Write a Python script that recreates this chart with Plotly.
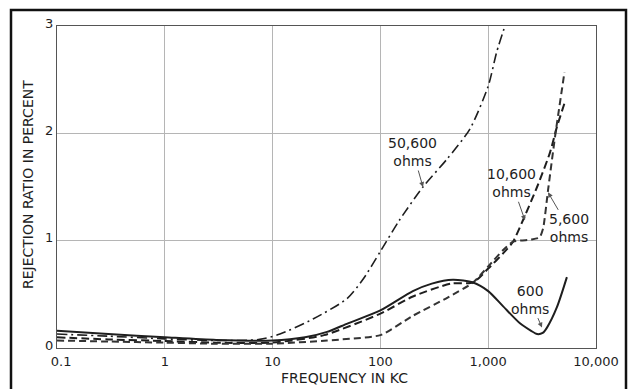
import plotly.graph_objects as go

# ---- data ----
f_600 = [0.1, 0.3, 1, 3, 10, 20, 32, 50, 100, 200, 300, 471, 725, 1000, 1370, 1970, 2500, 2840, 3200, 3510, 4340, 5370]
r_600 = [0.16, 0.13, 0.10, 0.075, 0.07, 0.10, 0.15, 0.23, 0.35, 0.53, 0.60, 0.635, 0.61, 0.53, 0.39, 0.23, 0.16, 0.13, 0.14, 0.19, 0.38, 0.66]

f_50600 = [0.1, 0.3, 1, 3, 7.6, 11.7, 23.7, 49, 69, 100, 150, 248, 415, 676, 1000, 1200, 1430]
r_50600 = [0.13, 0.11, 0.085, 0.07, 0.08, 0.13, 0.27, 0.46, 0.64, 0.90, 1.19, 1.50, 1.76, 2.04, 2.44, 2.76, 3.00]

f_10600 = [0.1, 0.3, 1, 3, 10, 30, 100, 200, 450, 725, 1000, 1370, 1700, 2100, 2840, 3740, 4340, 5100]
r_10600 = [0.10, 0.08, 0.065, 0.05, 0.05, 0.12, 0.32, 0.48, 0.60, 0.61, 0.74, 0.88, 0.99, 1.19, 1.50, 1.82, 2.06, 2.28]

f_5600 = [0.1, 0.3, 1, 3, 10, 32, 100, 200, 420, 725, 1000, 1370, 1700, 2500, 3000, 3240, 3590, 4170, 5100]
r_5600 = [0.07, 0.06, 0.05, 0.04, 0.04, 0.07, 0.12, 0.30, 0.47, 0.61, 0.76, 0.91, 0.99, 1.01, 1.03, 1.12, 1.47, 1.97, 2.57]

x_tickvals = [0.1, 1, 10, 100, 1000, 10000]
x_ticktext = ["\u00a0\u00a00.1", "1", "10", "100", "1,000", "10,000"]
y_tickvals = [0, 1, 2, 3]

FONT = "DejaVu Sans"
INK = "#1e1e1e"

fig = go.Figure()
fig.add_trace(go.Scatter(x=f_50600, y=r_50600, mode="lines", name="50,600 ohms",
                         line=dict(color=INK, width=1.6, dash="10px,4px,2px,4px", shape="spline", smoothing=0.7)))
fig.add_trace(go.Scatter(x=f_10600, y=r_10600, mode="lines", name="10,600 ohms",
                         line=dict(color=INK, width=2, dash="8px,4px", shape="spline", smoothing=0.6)))
fig.add_trace(go.Scatter(x=f_5600, y=r_5600, mode="lines", name="5,600 ohms",
                         line=dict(color="#333", width=2, dash="7px,4px", shape="spline", smoothing=0.5)))
fig.add_trace(go.Scatter(x=f_600, y=r_600, mode="lines", name="600 ohms",
                         line=dict(color=INK, width=2, shape="spline", smoothing=0.7)))

ann_style = dict(showarrow=True, arrowhead=2, arrowsize=1, arrowwidth=1, arrowcolor="#555",
                 font=dict(family=FONT, size=14, color=INK), xref="x", yref="y", axref="pixel", ayref="pixel")

L, R, T, B = 57, 596, 26, 348
W, H = 630, 389
def px(xp):
    return (xp - L) / (R - L)
def py(yp):
    return (B - yp) / (B - T)

annotations = [
    dict(x=2.395, y=1.50, text="50,600<br>ohms", ax=-10, ay=-35, **ann_style),
    dict(x=3.341, y=1.19, text="10,600<br>ohms", ax=-13, ay=-37, **ann_style),
    dict(x=3.555, y=1.45, text="5,600<br>ohms", ax=21, ay=36, **ann_style),
    dict(x=3.499, y=0.19, text="600<br>ohms", ax=-12, ay=-28, **ann_style),
    dict(x=px(344), y=py(378), xref="paper", yref="paper", showarrow=False,
         xanchor="center", yanchor="middle",
         text="FREQUENCY IN KC", font=dict(family=FONT, size=14, color=INK)),
    dict(x=px(28), y=py(185), xref="paper", yref="paper", showarrow=False,
         xanchor="center", yanchor="middle",
         text="REJECTION RATIO IN PERCENT", textangle=-90, font=dict(family=FONT, size=14, color=INK)),
]

fig.add_shape(type="path", xref="paper", yref="paper",
              path=f"M {px(11)},{py(392)} L {px(11)},{py(10)} L {px(626)},{py(10)} L {px(626)},{py(392)}",
              line=dict(color="#111", width=2.5))

fig.update_layout(
    width=W, height=H,
    margin=dict(l=L, r=W - R, t=T, b=H - B),
    paper_bgcolor="white", plot_bgcolor="white",
    showlegend=False,
    annotations=annotations,
    font=dict(family=FONT, size=13, color=INK),
)
fig.update_xaxes(type="log", range=[-1, 4], tickvals=x_tickvals, ticktext=x_ticktext,
                 showgrid=True, gridcolor="#b5b5b5", gridwidth=1,
                 showline=True, linecolor="#555", linewidth=1, mirror=True,
                 ticks="", ticklabelstandoff=1, zeroline=False,
                 tickfont=dict(family=FONT, size=13, color=INK))
fig.update_yaxes(range=[0, 3], tickvals=y_tickvals,
                 showgrid=True, gridcolor="#b5b5b5", gridwidth=1,
                 showline=True, linecolor="#555", linewidth=1, mirror=True,
                 ticks="", ticklabelshift=-3, zeroline=False,
                 tickfont=dict(family=FONT, size=13, color=INK))

fig.write_html("out.html", config={"displayModeBar": False},
               post_script="document.body.style.margin='0';document.body.style.overflow='hidden';")
